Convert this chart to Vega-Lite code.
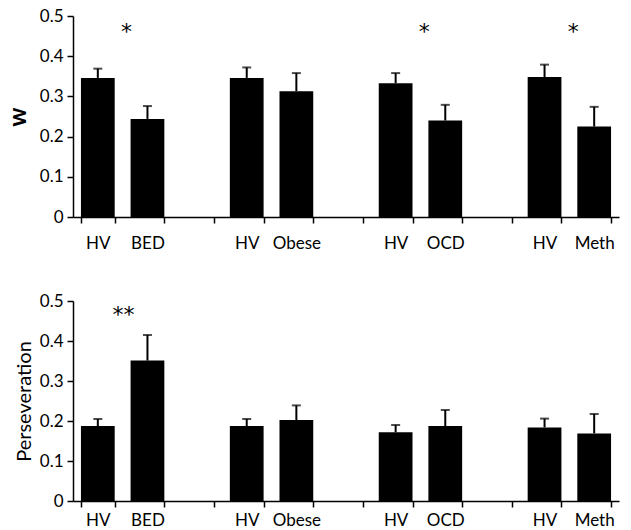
{
  "$schema": "https://vega.github.io/schema/vega-lite/v6.json",
  "padding": {"left": 6, "top": 7, "right": 5, "bottom": 2},
  "background": "white",
  "config": {
    "view": {"stroke": null},
    "font": "Lato",
    "axis": {
      "domainColor": "black", "domainWidth": 1.5, "tickColor": "black", "tickWidth": 1.5, "tickSize": 6,
      "labelColor": "black", "labelFont": "Lato", "labelFontSize": 17, "grid": false, "labelOverlap": false,
      "titleColor": "black", "titleFont": "Lato"
    }
  },
  "datasets": {
    "w": [
      {"slot": "HV_a", "value": 0.346, "err": 0.369},
      {"slot": "BED_a", "value": 0.244, "err": 0.276},
      {"slot": "HV_b", "value": 0.346, "err": 0.372},
      {"slot": "Obese_b", "value": 0.313, "err": 0.358},
      {"slot": "HV_c", "value": 0.333, "err": 0.358},
      {"slot": "OCD_c", "value": 0.240, "err": 0.279},
      {"slot": "HV_d", "value": 0.348, "err": 0.379},
      {"slot": "Meth_d", "value": 0.225, "err": 0.274}
    ],
    "p": [
      {"slot": "HV_a", "value": 0.1875, "err": 0.205},
      {"slot": "BED_a", "value": 0.351, "err": 0.415},
      {"slot": "HV_b", "value": 0.1875, "err": 0.205},
      {"slot": "Obese_b", "value": 0.2025, "err": 0.239},
      {"slot": "HV_c", "value": 0.172, "err": 0.19},
      {"slot": "OCD_c", "value": 0.1875, "err": 0.2275},
      {"slot": "HV_d", "value": 0.184, "err": 0.206},
      {"slot": "Meth_d", "value": 0.169, "err": 0.2175}
    ],
    "wsig": [
      {"slot": "BED_a", "label": "*", "value": 0.468},
      {"slot": "OCD_c", "label": "*", "value": 0.468},
      {"slot": "Meth_d", "label": "*", "value": 0.468}
    ],
    "psig": [
      {"slot": "BED_a", "label": "**", "value": 0.472}
    ]
  },
  "spacing": 41,
  "vconcat": [
    {
      "width": 546, "height": 201,
      "encoding": {
        "x": {"field": "slot", "type": "nominal",
          "scale": {"domain": ["HV_a","BED_a","_g1","HV_b","Obese_b","_g2","HV_c","OCD_c","_g3","HV_d","Meth_d"], "paddingInner": 0.32, "paddingOuter": 0.16},
          "axis": {"title": null, "labelAngle": 0, "tickBand": "extent", "labelPadding": 12, "labelExpr": "isString(datum.value) ? split(datum.value, '_')[0] : ''"}},
        "y": {"field": "value", "type": "quantitative",
          "scale": {"domain": [0, 0.5]},
          "axis": {"values": [0, 0.1, 0.2, 0.3, 0.4, 0.5], "labelOverlap": false, "labelExpr": "datum.value == 0 ? '0' : format(datum.value, '.1f')", "title": "w", "titleFontSize": 24, "titleFontWeight": "bold", "titlePadding": 9, "labelPadding": 4}}
      },
      "layer": [
        {"data": {"name": "w"}, "mark": {"type": "bar", "color": "black"}},
        {"data": {"name": "w"}, "mark": {"type": "rule", "color": "black", "strokeWidth": 2},
          "encoding": {"y2": {"field": "err"}}},
        {"data": {"name": "w"}, "mark": {"type": "tick", "color": "black", "thickness": 2, "size": 9},
          "encoding": {"y": {"field": "err", "type": "quantitative", "title": "w"}}},
        {"data": {"name": "wsig"}, "mark": {"type": "text", "font": "DejaVu Sans", "fontSize": 22, "dx": -21, "dy": 3, "color": "black"},
          "encoding": {"text": {"field": "label"}}}
      ]
    },
    {
      "width": 546, "height": 200,
      "encoding": {
        "x": {"field": "slot", "type": "nominal",
          "scale": {"domain": ["HV_a","BED_a","_g1","HV_b","Obese_b","_g2","HV_c","OCD_c","_g3","HV_d","Meth_d"], "paddingInner": 0.32, "paddingOuter": 0.16},
          "axis": {"title": null, "labelAngle": 0, "tickBand": "extent", "labelPadding": 5, "labelExpr": "isString(datum.value) ? split(datum.value, '_')[0] : ''"}},
        "y": {"field": "value", "type": "quantitative",
          "scale": {"domain": [0, 0.5]},
          "axis": {"values": [0, 0.1, 0.2, 0.3, 0.4, 0.5], "labelOverlap": false, "labelExpr": "datum.value == 0 ? '0' : format(datum.value, '.1f')", "title": "Perseveration", "titleFontSize": 20, "titleFontWeight": "normal", "titlePadding": 5, "labelPadding": 4}}
      },
      "layer": [
        {"data": {"name": "p"}, "mark": {"type": "bar", "color": "black"}},
        {"data": {"name": "p"}, "mark": {"type": "rule", "color": "black", "strokeWidth": 2},
          "encoding": {"y2": {"field": "err"}}},
        {"data": {"name": "p"}, "mark": {"type": "tick", "color": "black", "thickness": 2, "size": 9},
          "encoding": {"y": {"field": "err", "type": "quantitative", "title": "Perseveration"}}},
        {"data": {"name": "psig"}, "mark": {"type": "text", "font": "DejaVu Sans", "fontSize": 22, "dx": -24, "dy": 3, "color": "black"},
          "encoding": {"text": {"field": "label"}}}
      ]
    }
  ]
}
